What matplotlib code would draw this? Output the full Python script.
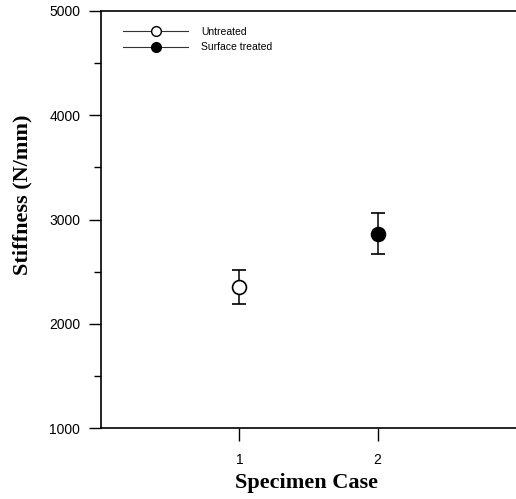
import numpy as np
import matplotlib.pyplot as plt
from matplotlib.ticker import MultipleLocator

# データ
cases = [1, 2]
labels = ['Untreated', 'Surface treated']
stiffness = [2350, 2865]
err = [165, 200]
fills = ['white', 'black']

fig = plt.figure(figsize=(5.16, 4.99), dpi=100)
ax = fig.add_axes([101 / 516, 1 - 428 / 499, 1 - 101 / 516, (428 - 11) / 499])

for x, y, e, fc, lab in zip(cases, stiffness, err, fills, labels):
    ax.errorbar([x], [y], yerr=[e], fmt='o', mfc=fc, mec='black', mew=1.2,
                ms=10, ecolor='black', elinewidth=1.1, capsize=5, capthick=1.1,
                zorder=3)
    # 凡例用のダミー
    ax.plot([], [], '-', color='#333333', lw=0.8, marker='o', mfc=fc,
            mec='black', ms=7, label=lab)

ax.set_xlim(0, 3)
ax.set_ylim(1000, 5000)
ax.set_xticks(cases)
ax.yaxis.set_major_locator(MultipleLocator(1000))
ax.yaxis.set_minor_locator(MultipleLocator(500))
ax.tick_params(axis='both', which='major', direction='out', length=9, width=1,
               labelsize=10)
ax.tick_params(axis='x', which='major', pad=9)
ax.tick_params(axis='y', which='major', pad=6)
ax.tick_params(axis='y', which='minor', direction='out', length=5, width=1)
for lbl in ax.get_xticklabels() + ax.get_yticklabels():
    lbl.set_fontfamily('Liberation Sans')

ax.spines['right'].set_visible(False)
for s in ['left', 'bottom', 'top']:
    ax.spines[s].set_linewidth(1.2)

ax.set_xlabel('Specimen Case', fontfamily='Liberation Serif',
              fontweight='bold', fontsize=16)
ax.set_ylabel('Stiffness (N/mm)', fontfamily='Liberation Serif',
              fontweight='bold', fontsize=16)
ax.xaxis.set_label_coords(0.495, -45 / 417)
ax.yaxis.set_label_coords(-69 / 415, (428 - 195) / 417)

leg = ax.legend(loc='upper left', frameon=False, handlelength=6.3,
                prop={'family': 'Liberation Sans', 'size': 7.5},
                bbox_to_anchor=(0.03, 0.985), labelspacing=0.55,
                handletextpad=1.2)

fig.savefig('out.png', dpi=100)
